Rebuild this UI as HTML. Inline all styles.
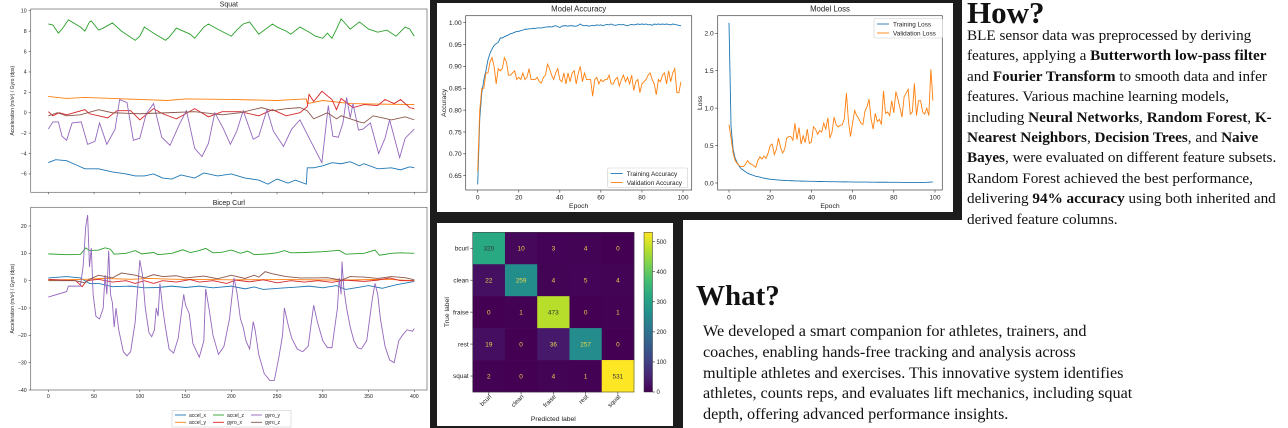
<!DOCTYPE html>
<html><head><meta charset="utf-8">
<style>
html,body{margin:0;padding:0;background:#fff;}
body{width:1288px;height:428px;position:relative;overflow:hidden;font-family:"Liberation Sans",sans-serif;}
svg{position:absolute;left:0;top:0;}
.txt{position:absolute;font-family:"Liberation Serif",serif;color:#111;white-space:nowrap;}
.h{font-weight:bold;}
b{font-weight:bold;}
</style></head><body>
<svg id="chart" width="1288" height="428" xmlns="http://www.w3.org/2000/svg"></svg>

<div class="txt h" style="left:967px;top:-3px;font-size:31px;line-height:31px;">How?</div>
<div class="txt" style="left:967px;top:26px;font-size:15.2px;line-height:20.4px;">
<div>BLE sensor data was preprocessed by deriving</div>
<div>features, applying a <b>Butterworth low-pass filter</b></div>
<div>and <b>Fourier Transform</b> to smooth data and infer</div>
<div>features. Various machine learning models,</div>
<div>including <b>Neural Networks</b>, <b>Random Forest</b>, <b>K-</b></div>
<div><b>Nearest Neighbors</b>, <b>Decision Trees</b>, and <b>Naive</b></div>
<div><b>Bayes</b>, were evaluated on different feature subsets.</div>
<div>Random Forest achieved the best performance,</div>
<div>delivering <b>94% accuracy</b> using both inherited and</div>
<div>derived feature columns.</div>
</div>
<div class="txt h" style="left:696px;top:281px;font-size:29px;line-height:31px;">What?</div>
<div class="txt" style="left:703px;top:321px;font-size:16.2px;line-height:20.8px;">
<div>We developed a smart companion for athletes, trainers, and</div>
<div>coaches, enabling hands-free tracking and analysis across</div>
<div>multiple athletes and exercises. This innovative system identifies</div>
<div>athletes, counts reps, and evaluates lift mechanics, including squat</div>
<div>depth, offering advanced performance insights.</div>
</div>

<script>
// ---------- DATA ----------
const seriesNames = ["accel_x","accel_y","accel_z","gyro_x","gyro_y","gyro_z"];
const seriesColors = ["#1f77b4","#ff7f0e","#2ca02c","#d62728","#9467bd","#8c564b"];

// Squat
const sqAxT=[0,8,20,30,40,55,70,85,95,105,115,125,135,145,160,170,185,200,215,230,240,250,262,270,282,283,290,300,310,320,330,340,345,360,375,385,395,400];
const sqAxV=[-4.9,-4.6,-4.7,-5.1,-5.5,-5.5,-5.8,-6.0,-6.2,-6.2,-6.0,-6.4,-6.5,-6.1,-6.4,-5.9,-6.2,-6.0,-6.4,-6.6,-7.0,-6.5,-6.9,-6.6,-7.0,-5.4,-5.4,-5.2,-4.9,-5.0,-4.8,-5.2,-5.0,-5.5,-5.4,-5.6,-5.3,-5.4];
const sqAyT=[0,20,40,70,100,130,150,200,250,270,282,283,300,330,360,400];
const sqAyV=[1.6,1.4,1.5,1.4,1.3,1.2,1.35,1.3,1.2,1.3,1.35,0.9,1.2,0.9,0.85,0.8];
const sqAzT=[0,5,11,15,22,35,40,45,47,55,60,70,80,95,100,105,115,128,132,140,155,160,170,175,185,200,206,213,220,230,245,250,260,265,275,285,292,300,305,310,315,320,325,330,340,350,360,370,380,390,395,400];
const sqAzV=[8.7,8.6,7.8,8.2,9.1,8.4,8.0,8.9,9.0,8.1,8.3,8.8,8.0,7.1,7.5,8.4,7.8,7.1,7.4,8.3,7.7,7.3,8.4,8.7,8.2,7.5,8.1,8.7,8.9,7.7,8.7,8.4,8.0,7.7,8.4,7.9,7.5,7.3,7.8,7.3,8.2,9.2,8.7,8.2,8.9,8.2,7.9,8.1,7.5,8.4,8.2,7.5];
const sqGxT=[0,5,12,20,40,45,65,75,90,100,115,125,140,160,175,190,210,230,245,260,275,283,285,290,299,310,315,320,333,345,360,368,378,385,395,400];
const sqGxV=[0.1,-0.3,0,-0.2,0.3,-0.1,-0.5,0.2,0.2,-0.7,0.4,-0.1,-0.6,0.4,-0.4,0.1,0.1,-0.3,0.3,-0.3,0,0.6,1.8,1.1,2.1,1.3,0.3,1.4,0.5,0.8,0.7,1.3,0.9,1.3,0.5,0.4];
const sqGyT=[0,5,11,15,20,26,36,43,51,56,64,73,78,86,93,100,107,115,124,133,144,151,160,168,175,182,191,199,206,213,224,230,239,246,257,266,275,288,299,306,311,317,322,326,330,333,339,344,352,361,368,373,384,390,400];
const sqGyV=[-1.6,-0.9,-0.9,-2.3,-2.7,-1,-0.9,-3.1,-2.8,-1,-3.1,-1.6,1.3,1,-2.7,-2.5,-0.1,0.9,-2.4,-3.2,-1,0.2,-3.5,-4.3,-3,0,-1.5,-3.1,-1.8,0.2,-2.6,-2.3,0.3,-1.8,-3.3,-1.6,-0.7,-3,-4.9,0.7,-2.3,-2.4,-1,1.5,-0.5,0.9,-1.7,-1.6,-1,-4,-2.5,-0.7,-4.4,-2.5,-1.6];
const sqGzT=[0,10,20,35,55,70,100,130,160,190,210,233,245,260,275,283,290,300,305,315,320,330,340,345,355,365,375,390,400];
const sqGzV=[-0.3,0,-0.3,-0.2,0.3,0,-0.1,0,0.1,-0.2,0,0.5,0.2,0.4,0.5,0.2,-0.6,-0.2,0,-0.6,-0.3,-0.6,-0.9,-1,-0.3,-0.5,-0.7,-0.4,-0.7];

// Bicep curl
const bcAxT=[0,20,35,45,55,70,90,105,120,135,150,165,180,200,215,225,235,255,270,285,300,315,325,340,350,365,380,400];
const bcAxV=[1,1.5,1,-1,-1,-2.2,-2,-2.6,-2.5,-2,-2.5,-2,-2.6,-2,-3,-2.3,-3.2,-2.7,-2.4,-2,-2.6,-1.8,-3.2,-2.4,-1.8,-2.8,-1.5,-0.3];
const bcAyT=[0,40,60,90,110,140,200,260,320,370,400];
const bcAyV=[0.2,0.5,0.8,0.5,0.8,0.5,0.3,0.4,0.2,0.5,0];
const bcAzT=[0,20,35,41,45,55,62,68,72,85,95,102,115,120,135,147,155,165,172,180,190,200,210,218,225,240,250,258,265,280,300,318,325,345,357,362,375,385,400];
const bcAzV=[9.8,9.5,9.6,12,11,11.2,12,11.5,9.7,10,11,9.8,10.3,9.5,10,11.3,10.3,11,11.8,10.2,10.4,11.2,10,10.8,9.5,9.8,10.2,11,10.2,10.3,10.6,11.1,9.7,10,11.2,9.3,10,10.2,10];
const bcGxT=[0,30,37,42,55,70,85,95,105,115,125,140,155,165,180,195,205,220,235,250,265,280,295,310,325,345,360,373,385,400];
const bcGxV=[0.5,0,-2.2,0,0.5,-0.5,0,-1,0,-1,0,-0.5,0.4,-0.5,0,-1,0.2,-0.4,0.3,-0.8,0,-0.5,0,-0.6,0.2,-0.3,0.2,1,0,0];
const bcGyT=[0,20,22,35,38,41,43,45,47,49,52,56,60,62,64,66,68,70,72,74,77,82,86,90,95,100,103,106,110,113,116,118,120,122,125,128,132,137,142,148,150,154,158,165,170,172,176,180,186,192,198,203,206,210,213,216,220,224,226,230,236,242,247,252,256,258,262,266,272,278,284,288,290,294,300,305,310,316,318,320,321,323,326,330,334,338,342,348,354,357,360,363,368,373,378,383,387,392,398,400];
const bcGyV=[-6,-4,-2,-2,5,20,24,5,12,-5,-13,-14,-10,2,-5,11,-5,-8,-17,-10,-18,-26,-27.5,-26,-15,7.5,2,-10,-19,-20.5,-18,-10,-13,-1,-10,-17,-25,-26.5,-21,-5,-9,-12,-23,-28,-22,-3,-11,-20,-27,-24,-14,1,-4,-14,-17,-22,-25,-15,-18,-27,-34,-36.5,-36.5,-28,-20,-10,-16,-21,-25,-26,-24,-14,-9,-15,-22,-24.5,-24.5,-10,1,-5,7,-3,-10,-17,-22,-24.5,-25,-22,-7,-1,-5,-14,-24,-29,-30,-22,-20,-18,-18.5,-17.5];
const bcGzT=[0,30,40,45,55,62,70,80,95,105,115,125,140,150,170,185,200,215,225,230,237,245,260,275,290,305,320,330,345,360,375,390,400];
const bcGzV=[0,0,-0.8,0.5,2,1.5,1,2.8,2,1,2.2,1.5,1.8,1,1.7,0.7,2,0.8,2,1.3,3.3,2.5,1.5,1,1,1.1,0.2,1.5,1.3,0.8,1.5,1.1,0.3];

// Model accuracy (epochs 0..99)
const accTrain=[0.63,0.78,0.84,0.87,0.89,0.915,0.93,0.94,0.948,0.952,0.955,0.965,0.965,0.968,0.97,0.972,0.975,0.976,0.978,0.98,0.98,0.982,0.983,0.985,0.985,0.986,0.986,0.987,0.987,0.988,0.988,0.988,0.989,0.99,0.99,0.991,0.99,0.992,0.993,0.991,0.989,0.992,0.993,0.993,0.992,0.993,0.993,0.992,0.992,0.994,0.997,0.994,0.993,0.994,0.992,0.993,0.994,0.993,0.995,0.994,0.995,0.993,0.995,0.996,0.995,0.997,0.995,0.994,0.995,0.996,0.995,0.996,0.994,0.993,0.995,0.996,0.995,0.996,0.997,0.996,0.997,0.996,0.997,0.995,0.996,0.994,0.997,0.996,0.997,0.996,0.997,0.996,0.997,0.996,0.995,0.997,0.996,0.995,0.994,0.993];
const accVal=[0.66,0.80,0.85,0.85,0.885,0.885,0.91,0.92,0.90,0.86,0.895,0.89,0.895,0.92,0.91,0.88,0.88,0.885,0.89,0.87,0.875,0.87,0.885,0.87,0.875,0.895,0.87,0.87,0.87,0.875,0.865,0.862,0.875,0.88,0.905,0.895,0.88,0.87,0.885,0.895,0.87,0.865,0.885,0.86,0.885,0.865,0.885,0.89,0.86,0.885,0.9,0.865,0.885,0.87,0.87,0.87,0.832,0.87,0.875,0.86,0.87,0.865,0.87,0.87,0.88,0.86,0.86,0.87,0.875,0.855,0.87,0.88,0.865,0.875,0.86,0.88,0.845,0.865,0.87,0.84,0.86,0.865,0.87,0.88,0.885,0.87,0.86,0.835,0.87,0.865,0.88,0.885,0.86,0.89,0.865,0.885,0.895,0.84,0.84,0.865];
const accTicks=[0.65,0.70,0.75,0.80,0.85,0.90,0.95,1.00];
const epochTicks=[0,20,40,60,80,100];

// Model loss
const lossTrain=[2.14,0.75,0.45,0.33,0.27,0.22,0.19,0.17,0.15,0.13,0.12,0.11,0.10,0.09,0.085,0.08,0.07,0.065,0.06,0.055,0.05,0.048,0.045,0.043,0.04,0.038,0.036,0.035,0.033,0.032,0.03,0.03,0.028,0.028,0.027,0.025,0.025,0.024,0.024,0.023,0.022,0.022,0.021,0.02,0.02,0.02,0.019,0.019,0.018,0.018,0.017,0.017,0.016,0.016,0.016,0.015,0.015,0.015,0.014,0.014,0.014,0.013,0.013,0.013,0.012,0.012,0.012,0.012,0.011,0.011,0.011,0.011,0.01,0.01,0.01,0.01,0.01,0.01,0.009,0.009,0.009,0.009,0.009,0.009,0.008,0.008,0.008,0.008,0.008,0.008,0.008,0.008,0.008,0.008,0.008,0.008,0.009,0.01,0.012,0.014];
const lossVal=[0.78,0.6,0.4,0.3,0.26,0.23,0.22,0.22,0.25,0.3,0.26,0.25,0.23,0.21,0.3,0.35,0.32,0.36,0.33,0.4,0.5,0.52,0.38,0.45,0.6,0.48,0.4,0.45,0.6,0.62,0.62,0.57,0.8,0.58,0.74,0.52,0.63,0.54,0.72,0.53,0.55,0.75,0.72,0.65,0.7,0.68,0.8,0.72,0.87,0.6,0.68,0.88,0.78,0.75,0.77,0.78,0.86,1.2,0.82,0.62,0.8,0.97,0.9,0.86,0.8,0.78,0.96,1.02,1.12,0.85,0.72,0.93,0.82,0.85,0.78,1.23,0.93,0.95,0.9,1.1,0.94,1.22,1.12,1.0,0.88,1.15,1.2,1.25,0.92,0.95,1.33,0.9,1.1,1.1,0.95,0.92,1.0,0.9,1.52,1.1];
const lossTicks=[0.0,0.5,1.0,1.5,2.0];

// Confusion matrix
const cmLabels=["bcurl","clean","fraise","rest","squat"];
const cmRow0=[320,10,3,4,0];
const cmRow1=[22,259,4,5,4];
const cmRow2=[0,1,473,0,1];
const cmRow3=[19,0,36,257,0];
const cmRow4=[2,0,4,1,531];
const cmTicks=[0,100,200,300,400,500];

// ---------- DRAWING ----------
const svg=document.getElementById('chart');
const NS='http://www.w3.org/2000/svg';
function mk(tag,attrs,parent){const e=document.createElementNS(NS,tag);for(const k in attrs)e.setAttribute(k,attrs[k]);(parent||svg).appendChild(e);return e;}
function txt(s,x,y,size,anchor,parent,extra){const e=mk('text',Object.assign({x:x,y:y,'font-size':size,'text-anchor':anchor||'middle','font-family':'Liberation Sans, sans-serif',fill:'#222'},extra||{}),parent);e.textContent=s;return e;}
function lin(d0,d1,p0,p1){return v=>p0+(v-d0)*(p1-p0)/(d1-d0);}
function pathOf(xs,ys,sx,sy){return xs.map((t,i)=>(i?'L':'M')+sx(t).toFixed(2)+' '+sy(ys[i]).toFixed(2)).join(' ');}

// dark frames
const f1=mk('rect',{x:430,y:0,width:532,height:220,fill:'#1c1c1c'});


mk('rect',{x:437,y:3,width:516,height:209,fill:'#fff'});
const f2=mk('rect',{x:430,y:212,width:253,height:216,fill:'#1c1c1c'});


mk('rect',{x:437,y:223,width:236,height:203,fill:'#fff'});

// ---- sensor charts ----
function sensorChart(name,title,box,yd,yticks,xlabels,series){
  const g=mk('g',{});
  
  
  const sx=lin(0,400,48.3,414.3), sy=lin(yd[0],yd[1],box.b,box.t);
  yticks.forEach(v=>{const y=sy(v);mk('line',{x1:box.l-2,x2:box.l,y1:y,y2:y,stroke:'#444','stroke-width':0.6},g);
    txt(String(v).replace('-','\u2212'),box.l-4,y+1.8,5.2,'end',g);});
  [0,50,100,150,200,250,300,350,400].forEach(v=>{const x=sx(v);mk('line',{x1:x,x2:x,y1:box.b,y2:box.b+2,stroke:'#444','stroke-width':0.6},g);
    if(xlabels)txt(String(v),x,box.b+8,5.2,'middle',g);});
  txt(title,(box.l+box.r)/2,box.t-2.5,7,'middle',g);
  const yl=txt('Acceleration (m/s\u00b2) / Gyro (dps)',0,0,5,'middle',g);
  yl.setAttribute('transform','translate(14 '+((box.t+box.b)/2)+') rotate(-90)');
  const clip=mk('clipPath',{id:'c'+name},g);mk('rect',{x:box.l,y:box.t,width:box.r-box.l,height:box.b-box.t},clip);
  series.forEach((s,i)=>{const p=mk('path',{d:pathOf(s[0],s[1],sx,sy),fill:'none',stroke:seriesColors[i],'stroke-width':0.9,'clip-path':'url(#c'+name+')'},g);
    
    });
  mk('rect',{x:box.l,y:box.t,width:box.r-box.l,height:box.b-box.t,fill:'none',stroke:'#666','stroke-width':0.7},g);
}
sensorChart('squat-chart','Squat',{l:30.7,r:427,t:9,b:192.3},[-7.8,10.17],[-6,-4,-2,0,2,4,6,8,10],false,
  [[sqAxT,sqAxV],[sqAyT,sqAyV],[sqAzT,sqAzV],[sqGxT,sqGxV],[sqGyT,sqGyV],[sqGzT,sqGzV]]);
sensorChart('bicep-curl-chart','Bicep Curl',{l:30.7,r:427,t:207.3,b:390},[-40,26.84],[-40,-30,-20,-10,0,10,20],true,
  [[bcAxT,bcAxV],[bcAyT,bcAyV],[bcAzT,bcAzV],[bcGxT,bcGxV],[bcGyT,bcGyV],[bcGzT,bcGzV]]);

// sensor legend
(function(){
  const g=mk('g',{});
  
  
  mk('rect',{x:172,y:410.5,width:119,height:16.5,fill:'#fff',stroke:'#ccc','stroke-width':0.6},g);
  [0,1,2,3,4,5].forEach((i,k)=>{const col=Math.floor(k/2),row=k%2;const x=175+col*38,y=415+row*7.3;
    const e=mk('g',{},g);
    
    
    mk('line',{x1:x,x2:x+11,y1:y,y2:y,stroke:seriesColors[i],'stroke-width':0.9},e);
    txt(seriesNames[i],x+14,y+1.8,5,'start',e);});
})();

// ---- training charts ----
function lineChart(name,title,ylabel,box,xd,yd,yticks,fmt,series,labels,legendPos,ylx){
  const g=mk('g',{});
  
  
  const sx=lin(xd[0],xd[1],box.x0,box.x1), sy=lin(yd[0],yd[1],box.y0,box.y1);
  yticks.forEach(v=>{const y=sy(v);mk('line',{x1:box.l-2.5,x2:box.l,y1:y,y2:y,stroke:'#333','stroke-width':0.6},g);
    txt(fmt(v),box.l-4,y+2.3,6.6,'end',g);});
  epochTicks.forEach(v=>{const x=sx(v);mk('line',{x1:x,x2:x,y1:box.b,y2:box.b+2.5,stroke:'#333','stroke-width':0.6},g);
    txt(String(v),x,box.b+9.5,6.6,'middle',g);});
  txt(title,(box.l+box.r)/2,11.5,7.8,'middle',g);
  txt('Epoch',(box.l+box.r)/2,208,6.8,'middle',g);
  const yl=txt(ylabel,0,0,6.8,'middle',g);yl.setAttribute('transform','translate('+ylx+' '+((box.t+box.b)/2)+') rotate(-90)');
  const cols=['#1f77b4','#ff7f0e'];
  series.forEach((s,i)=>{const p=mk('path',{d:pathOf(s.map((_,k)=>k),s,sx,sy),fill:'none',stroke:cols[i],'stroke-width':0.9},g);
    
    });
  mk('rect',{x:box.l,y:box.t,width:box.r-box.l,height:box.b-box.t,fill:'none',stroke:'#444','stroke-width':0.7},g);
  const lg=mk('g',{},g);
  
  
  mk('rect',{x:legendPos.x,y:legendPos.y,width:legendPos.w,height:19.5,fill:'#fff',stroke:'#ccc','stroke-width':0.6,rx:1.5},lg);
  labels.forEach((l,i)=>{const y=legendPos.y+5.5+i*9;mk('line',{x1:legendPos.x+3,x2:legendPos.x+15,y1:y,y2:y,stroke:cols[i],'stroke-width':0.9},lg);
    txt(l,legendPos.x+19,y+2.3,6.4,'start',lg);});
}
lineChart('accuracy-chart','Model Accuracy','Accuracy',{l:465.7,r:691.7,t:15.7,b:190,x0:477.7,x1:683,y0:175.7,y1:22.7},
  [0,100],[0.65,1.00],accTicks,v=>v.toFixed(2),[accTrain,accVal],['Training Accuracy','Validation Accuracy'],{x:607.7,y:168,w:80},446);
lineChart('loss-chart','Model Loss','Loss',{l:717.7,r:942.3,t:15.7,b:190,x0:729,x1:935,y0:183,y1:33.3},
  [0,100],[0,2.0],lossTicks,v=>v.toFixed(1),[lossTrain,lossVal],['Training Loss','Validation Loss'],{x:874,y:18.5,w:68.5},702);

// ---- confusion matrix ----
function viridis(t){
  const st=[[68,1,84],[72,40,120],[62,74,137],[49,104,142],[38,130,142],[31,158,137],[53,183,121],[110,206,88],[181,222,43],[253,231,37]];
  t=Math.max(0,Math.min(1,t))*(st.length-1);const i=Math.min(st.length-2,Math.floor(t)),f=t-i;
  const c=st[i].map((v,k)=>Math.round(v+(st[i+1][k]-v)*f));return 'rgb('+c.join(',')+')';}
(function(){
  const rows=[cmRow0,cmRow1,cmRow2,cmRow3,cmRow4];
  const vmax=Math.max(...rows.flat());
  const g=mk('g',{});
  
  
  const L=472.7,R=634,T=232.3,B=392,cw=(R-L)/5,ch=(B-T)/5;
  rows.forEach((r,i)=>r.forEach((v,j)=>{
    const c=mk('rect',{x:L+j*cw,y:T+i*ch,width:cw+0.3,height:ch+0.3,fill:viridis(v/vmax)},g);
    
    
    txt(String(v),L+j*cw+cw/2,T+i*ch+ch/2+2.3,6.4,'middle',g,{fill:v/vmax>0.6?'#333':'#e8d84a'});
  }));
  mk('rect',{x:L,y:T,width:R-L,height:B-T,fill:'none',stroke:'#333','stroke-width':0.5},g);
  cmLabels.forEach((l,i)=>{const y=T+i*ch+ch/2;mk('line',{x1:L-2.5,x2:L,y1:y,y2:y,stroke:'#333','stroke-width':0.6},g);
    txt(l,L-4,y+2.2,6.4,'end',g);
    const x=L+i*cw+cw/2;mk('line',{x1:x,x2:x,y1:B,y2:B+2.5,stroke:'#333','stroke-width':0.6},g);
    const t=txt(l,0,0,6.2,'end',g);t.setAttribute('transform','translate('+(x+3)+' '+(B+5)+') rotate(-45)');});
  txt('Predicted label',(L+R)/2,421,6.8,'middle',g);
  const yl=txt('True label',0,0,6.8,'middle',g);yl.setAttribute('transform','translate(449 '+((T+B)/2)+') rotate(-90)');
  const cb=mk('g',{},g);
  
  
  const defs=mk('defs',{},cb);const gr=mk('linearGradient',{id:'vir',x1:0,y1:1,x2:0,y2:0},defs);
  for(let k=0;k<=10;k++)mk('stop',{offset:k/10,'stop-color':viridis(k/10)},gr);
  const cT=232.3,cB=392;
  mk('rect',{x:644,y:cT,width:8.5,height:cB-cT,fill:'url(#vir)',stroke:'#333','stroke-width':0.5},cb);
  const cs=lin(0,vmax,cB,cT);
  cmTicks.forEach(v=>{const y=cs(v);mk('line',{x1:652.5,x2:655,y1:y,y2:y,stroke:'#333','stroke-width':0.6},cb);
    txt(String(v),656.5,y+2.2,6,'start',cb);});
})();
</script>
</body></html>
